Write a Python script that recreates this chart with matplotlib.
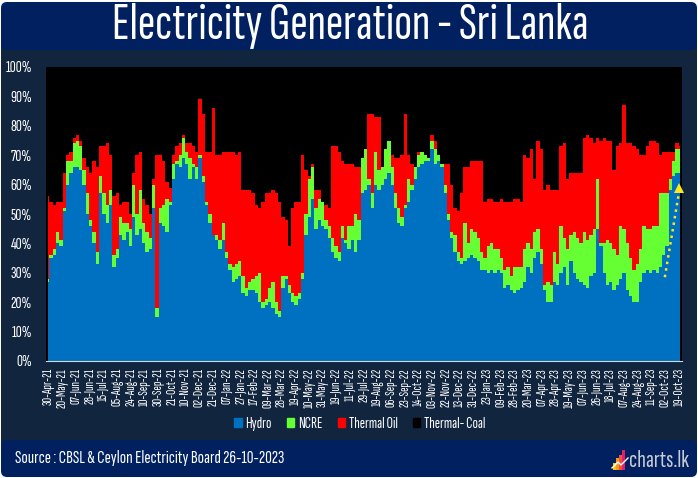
#!/usr/bin/python

# electricity generation mix - Sri Lanka, stacked share chart

import numpy as np
import matplotlib
matplotlib.use('Agg')
import matplotlib.pyplot as plt
from matplotlib.patches import FancyBboxPatch, Rectangle, Patch

# values, in percent of generation (cumulative tops of the stack)
hydro = [27,35,36,40,39,51,60,64,66,66,65,60,
         50,46,40,33,57,50,47,53,32,35,43,41,44,39,49,43,45,40,37,38,52,15,47,46,44,53,62,67,66,69,67,62,66,62,
         69,61,53,47,43,41,38,41,35,31,27,28,29,23,22,24,24,23,20,18,19,20,18,16,15,25,28,23,20,19,21,28,43,49,55,45,48,46,45,42,37,35,34,42,40,
         38,41,37,41,57,58,60,52,60,58,
         60,62,64,60,52,47,46,52,54,58,62,66,67,68,68,72,67,68,66,57,48,42,37,34,33,34,35,36,35,34,31,31,30,31,30,31,30,25,26,24,23,24,25,
         27,32,30,35,37,33,24,20,20,27,26,30,32,26,34,30,28,27,26,25,29,30,45,39,30,26,27,24,26,28,30,24,22,20,20,27,30,31,30,31,30,32,36,39,58,63,64,64]
hydro_ncre = [28,36,38,44,41,52,68,68,74,75,73,65,
              57,48,44,37,63,57,53,58,36,38,49,47,47,45,60,50,58,47,44,42,60,18,52,53,55,54,67,68,70,76,71,69,67,66,
              70,63,54,50,43,43,41,47,37,33,32,33,34,29,25,27,28,29,30,20,21,25,27,20,17,29,29,26,23,22,23,30,50,62,66,52,55,54,48,46,42,39,37,46,41,
              46,46,50,48,69,72,62,57,71,65,
              66,72,75,66,57,52,49,53,62,60,66,70,71,70,69,75,72,70,67,60,50,44,43,37,35,47,40,45,44,42,37,35,39,40,38,38,35,31,32,29,32,32,32,
              38,40,38,44,45,38,26,27,26,37,33,46,42,38,43,44,42,40,44,41,43,45,62,40,40,41,40,38,36,46,45,40,35,31,33,38,46,45,45,46,46,57,57,57,62,68,72,72]
hydro_ncre_oil = [56,54,53,54,54,64,70,71,76,77,75,69,
                  66,64,68,66,73,73,74,70,56,57,53,54,54,50,64,70,71,55,53,50,62,70,70,68,61,59,70,73,74,77,74,74,73,71,
                  89,84,71,71,86,70,70,71,71,71,71,70,71,58,58,58,57,53,52,54,57,57,58,57,54,49,48,39,52,54,54,70,65,63,67,58,58,54,53,52,73,73,71,68,67,
                  67,67,66,66,69,72,84,84,83,83,
                  66,72,75,70,69,69,70,84,70,67,66,71,71,70,69,77,75,70,67,67,67,60,52,51,57,66,66,68,68,68,68,54,55,55,54,54,55,54,54,54,55,55,54,
                  70,69,72,62,75,72,58,60,58,58,58,73,74,62,64,64,64,64,76,77,76,74,76,75,76,75,75,65,73,74,87,74,74,73,72,70,70,73,75,75,74,70,71,71,71,71,74,73]

tick_labels = ['30-Apr-21','20-May-21','07-Jun-21','28-Jun-21','15-Jul-21','05-Aug-21','24-Aug-21','10-Sep-21',
               '30-Sep-21','21-Oct-21','10-Nov-21','02-Dec-21','21-Dec-21','07-Jan-22','27-Jan-22','17-Feb-22',
               '09-Mar-22','28-Mar-22','19-Apr-22','10-May-22','31-May-22','19-Jun-22','11-Jul-22','29-Jul-22',
               '19-Aug-22','06-Sep-22','23-Sep-22','14-Oct-22','03-Nov-22','22-Nov-22','13-Dec-22','31-Dec-22',
               '23-Jan-23','09-Feb-23','28-Feb-23','20-Mar-23','07-Apr-23','28-Apr-23','19-May-23','07-Jun-23',
               '26-Jun-23','18-Jul-23','07-Aug-23','24-Aug-23','11-Sep-23','02-Oct-23','19-Oct-23']

NAVY = '#11253F'
BANNER = '#002060'
BLUE = '#0070C0'
GREEN = '#66FF33'
RED = '#FF0000'
YELLOW = '#FFE81A'

plt.rcParams['font.family'] = ['Sofia Sans Extra Condensed', 'Barlow Condensed', 'Roboto Condensed',
                               'Archivo Narrow', 'Roboto', 'DejaVu Sans']
plt.rcParams['font.weight'] = 'bold'

W, H = 698, 478
fig = plt.figure(figsize=(W/100, H/100), dpi=100, facecolor='white')

# background panel and the two banners, in pixels
bg = fig.add_axes([0, 0, 1, 1], zorder=0)
bg.set_xlim(0, W)
bg.set_ylim(H, 0)
bg.axis('off')
bg.add_patch(Rectangle((1, 20), W-2, H-40, fc=NAVY, ec='none'))
for y0, y1 in [(2, 50), (440, 477)]:
    bg.add_patch(FancyBboxPatch((7, y0+6), W-14, y1-y0-12, boxstyle='round,pad=6,rounding_size=6',
                                fc=BANNER, ec='none'))
bg.text(350, 26, 'Electricity Generation - Sri Lanka', color='white', fontsize=38,
        ha='center', va='center')
bg.text(15, 458, 'Source : CBSL & Ceylon Electricity Board 26-10-2023', color='white',
        fontsize=13.5, ha='left', va='center')
bg.text(629, 461, 'charts.lk', color='#C9CCD6', fontsize=18, ha='left', va='center')
for i, (c, hh) in enumerate(zip(['#FFC000', '#F39A1E', '#F0503C', '#E0206A'], [7, 12, 15, 20])):
    bg.add_patch(Rectangle((613+i*3, 470-hh), 3, hh, fc=c, ec='none'))
bg.plot([612, 618, 621, 628], [468, 462, 465, 458], color='white', lw=1)

# main chart
ax = fig.add_axes([46/W, 1-361/H, 636/W, 294/H], zorder=1)
x = np.arange(len(hydro))
ax.fill_between(x, 0, 100, color='black', step='mid', lw=0)
ax.fill_between(x, 0, hydro_ncre_oil, color=RED, step='mid', lw=0)
ax.fill_between(x, 0, hydro_ncre, color=GREEN, step='mid', lw=0)
ax.fill_between(x, 0, hydro, color=BLUE, step='mid', lw=0)
ax.set_xlim(-0.5, len(x)-0.5)
ax.set_ylim(0, 100)
ax.set_facecolor('black')

ax.set_yticks(np.arange(0, 101, 10))
ax.set_yticklabels([str(v) + '%' for v in range(0, 101, 10)], color='white', fontsize=12)
ticks = np.linspace(0.2, len(x)-1.5, len(tick_labels))
ax.set_xticks(ticks)
ax.set_xticklabels(tick_labels, rotation=90, color='white', fontsize=9.5)
ax.tick_params(axis='x', length=0, pad=5)
ax.tick_params(axis='y', length=0, pad=10)
for s in ['top', 'left', 'right']:
    ax.spines[s].set_visible(False)
ax.spines['bottom'].set_color('#D9D9D9')

# dotted yellow arrow towards the latest hydro share
ax.plot([0.973, 0.995], [0.285, 0.57], color=YELLOW, ls=':', lw=1.8, transform=ax.transAxes, clip_on=False)
ax.plot([0.995], [0.588], marker='^', ms=7.5, color=YELLOW, mew=0, transform=ax.transAxes, clip_on=False)

handles = [Patch(color=BLUE), Patch(color=GREEN), Patch(color=RED), Patch(color='black')]
fig.legend(handles, ['Hydro', 'NCRE', 'Thermal Oil', 'Thermal- Coal'], ncol=4, frameon=False,
           loc='center', bbox_to_anchor=(360/W, 1-424/H), labelcolor='white', fontsize=11.5,
           handlelength=0.45, handleheight=0.45, handletextpad=0.25, columnspacing=0.95)

fig.savefig('out.png', dpi=100, facecolor='white')
